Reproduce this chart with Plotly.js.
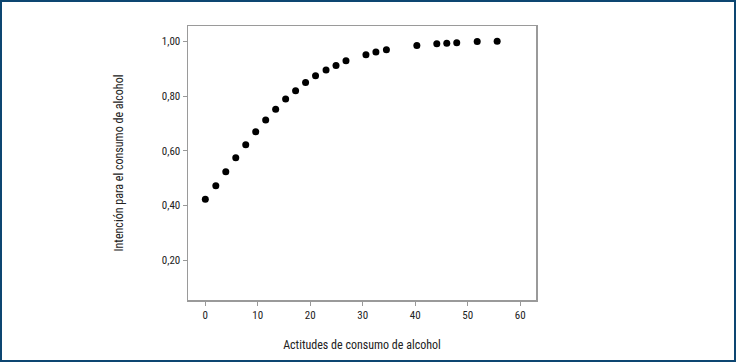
<!DOCTYPE html>
<html>
<head>
<meta charset="utf-8">
<script src="https://cdn.plot.ly/plotly-3.0.1.min.js"></script>
<style>
html,body{margin:0;padding:0;background:#fff;}
#wrap{position:relative;width:736px;height:362px;}
#chart{position:absolute;left:0;top:0;width:736px;height:362px;}
#frame{position:absolute;left:0;top:0;width:736px;height:362px;box-sizing:border-box;border:2px solid #0d4671;pointer-events:none;}
</style>
</head>
<body>
<div id="wrap"><div id="chart"></div><div id="frame"></div></div>
<script>
const attitudes = [0, 2, 3.9, 5.8, 7.7, 9.6, 11.5, 13.4, 15.3, 17.2, 19.1, 21.0, 23.0, 24.9, 26.8, 30.6, 32.5, 34.5, 40.3, 44.1, 46.0, 47.9, 51.8, 55.6];
const intention = [0.422, 0.472, 0.523, 0.574, 0.622, 0.669, 0.712, 0.752, 0.789, 0.819, 0.849, 0.874, 0.895, 0.912, 0.929, 0.951, 0.961, 0.969, 0.985, 0.991, 0.993, 0.995, 0.999, 1.0];
const yTickVals = [0.2, 0.4, 0.6, 0.8, 1.0];
const yTickText = ['0,20', '0,40', '0,60', '0,80', '1,00'];
const xTickVals = [0, 10, 20, 30, 40, 50, 60];

const font = "'Liberation Sans Narrow', 'Roboto Condensed', 'Liberation Sans', Arial, sans-serif";

Plotly.newPlot('chart', [{
  type: 'scatter',
  mode: 'markers',
  x: attitudes,
  y: intention,
  marker: {color: '#000', size: 7},
  hoverinfo: 'none'
}], {
  width: 736, height: 362,
  margin: {l: 188, r: 200, t: 26, b: 62},
  paper_bgcolor: '#fff',
  plot_bgcolor: '#fff',
  showlegend: false,
  font: {family: font, size: 11, color: '#222'},
  xaxis: {
    range: [-3.3, 63],
    tickvals: xTickVals,
    ticks: 'outside', ticklen: 4, tickcolor: '#999', tickwidth: 1,
    showgrid: false, zeroline: false,
    showline: true, linecolor: '#9a9a9a', linewidth: 1.5, mirror: true,
    tickfont: {family: font, size: 11, color: '#222'},
    title: {text: 'Actitudes de consumo de alcohol', standoff: 20, font: {family: font, size: 12, color: '#222'}}
  },
  yaxis: {
    range: [0.054, 1.056],
    tickvals: yTickVals,
    ticktext: yTickText,
    ticks: 'outside', ticklen: 4, tickcolor: '#999', tickwidth: 1,
    showgrid: false, zeroline: false,
    showline: true, linecolor: '#9a9a9a', linewidth: 1.5, mirror: true,
    tickfont: {family: font, size: 11, color: '#222'},
    title: {text: 'Intención para el consumo de alcohol', standoff: 35, font: {family: font, size: 12, color: '#222'}}
  }
}, {displayModeBar: false, staticPlot: true});
</script>
</body>
</html>
